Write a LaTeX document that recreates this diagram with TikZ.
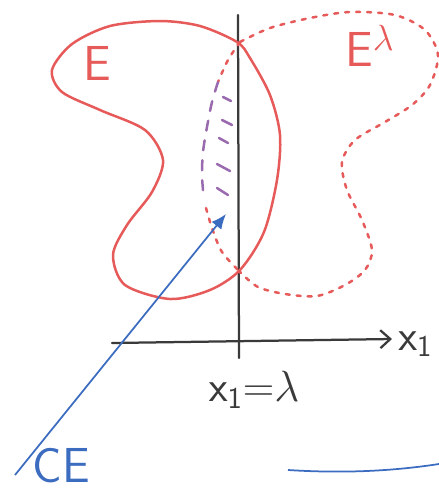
\documentclass[tikz,border=0pt]{standalone}
\usetikzlibrary{arrows.meta,positioning}
\definecolor{penred}{HTML}{E65A5A}
\definecolor{penpurple}{HTML}{9A6AAE}
\definecolor{penblue}{HTML}{3C6CC0}
\definecolor{penblack}{HTML}{3A3A3A}
\tikzset{
  setline/.style={draw=penred, line width=0.05cm, line join=round},
  mirrorline/.style={draw=penred, line width=0.05cm, line cap=round, dash pattern=on 0.08cm off 0.14cm},
  innerline/.style={draw=penpurple, line width=0.05cm, line cap=round, dash pattern=on 0.2cm off 0.2cm},
  hatchline/.style={draw=penpurple, line width=0.05cm, line cap=round},
  axisline/.style={draw=penblack, line width=0.045cm, line cap=round},
  pointer/.style={draw=penblue, line width=0.035cm, -{Latex[length=0.3cm,width=0.25cm]}},
  penlabel/.style={inner sep=0pt, font=\fontsize{28}{30}\selectfont\sffamily},
  axislabel/.style={inner sep=0pt, text=penblack, font=\fontsize{24}{26}\selectfont\sffamily}
}
\begin{document}
\begin{tikzpicture}[x=0.02cm,y=-0.02cm]
  \useasboundingbox (0,0) rectangle (439,495);
  % axes
  \coordinate (vtop) at (238,15);
  \coordinate (vbot) at (239,358);
  \coordinate (xstart) at (112,343);
  \coordinate (xend) at (392,339);
  \draw[axisline] (vtop) -- (vbot);
  \draw[axisline,-{Straight Barb[length=0.2cm,width=0.36cm]}] (xstart) -- (xend);
  \node[axislabel,right=0.12cm of xend,yshift=-0.1cm] (xlab) {$\mathsf{x}_{\mathsf{1}}$};
  \node[axislabel] (lamlab) at (254,390) {$\mathsf{x}_{\mathsf{1}}\mathsf{=}\lambda$};
  % the set E
  \draw[setline] plot[smooth cycle] coordinates {(237,42) (200,26) (160,21) (110,26) (72,44) (52,70) (62,92)
    (100,110) (145,130) (163,160) (152,192) (127,225) (113,255) (125,285) (170,299) (210,290) (240,270)
    (264,232) (277,180) (280,135) (270,95) (250,58)};
  \node[penlabel,text=penred] (elab) at (97,63) {E};
  % the reflected set
  \draw[mirrorline] plot[smooth] coordinates {(240,42) (270,28) (310,18) (350,12) (395,15) (425,30) (438,55)
    (430,85) (412,105) (385,122) (355,140) (342,162) (347,190) (362,220) (372,250) (365,270) (345,285)
    (317,296) (285,294) (258,287) (240,272)};
  \draw[mirrorline] plot[smooth] coordinates {(240,42) (228,60) (218,82)};
  \draw[innerline] plot[smooth] coordinates {(218,82) (212,102) (207,127) (203,152) (202,176) (204,200)};
  \draw[mirrorline] plot[smooth] coordinates {(206,208) (212,228) (222,252) (240,272)};
  \node[penlabel,text=penred] (ellab) at (370,46) {E\textsuperscript{$\lambda$}};
  % hatching
  \foreach \ya/\xa/\yb/\xb in {97/223/101/231, 120/222/125/232, 138/219/143/228, 164/217/171/230, 188/217/195/228}
    \draw[hatchline] (\xa,\ya) -- (\xb,\yb);
  % complement
  \coordinate (cstart) at (15,475);
  \coordinate (ctip) at (226,214);
  \draw[pointer] (cstart) -- (ctip);
  \node[penlabel,text=penblue,right=0.35cm of cstart,yshift=0.18cm] (celab) {CE};
  \coordinate (bstart) at (288,470);
  \coordinate (bend) at (439,464);
  \draw[draw=penblue, line width=0.035cm] (bstart) .. controls (350,474) and (400,470) .. (bend);
\end{tikzpicture}
\end{document}
